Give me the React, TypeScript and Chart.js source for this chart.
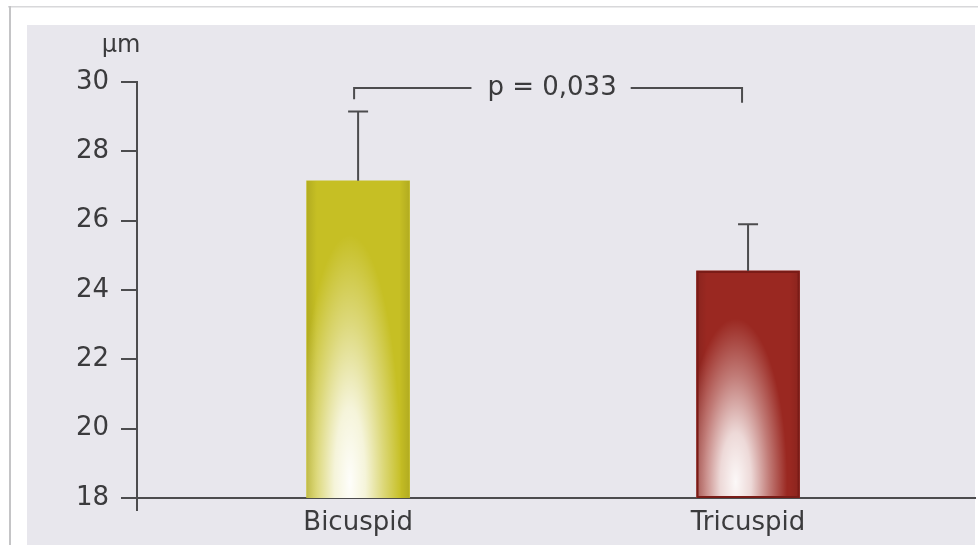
import React, { useEffect, useRef } from "react";
import { Chart, registerables } from "chart.js";

Chart.register(...registerables);

const categories = ["Bicuspid", "Tricuspid"];
const means = [27.15, 24.55];
const errors = [2.0, 1.35];
const yTicks = [18, 20, 22, 24, 26, 28, 30];
const unitLabel = "µm";
const pLabel = "p = 0,033";
const bracketLevel = 29.83;
const bracketEnds = [29.5, 29.4];

const FONT = "'DejaVu Sans', 'Liberation Sans', Arial, sans-serif";
const INK = "#3b3b3d";
const AXIS = "#4c4c4e";

function glow(ctx: CanvasRenderingContext2D, x0: number, x1: number, top: number, base: number, cxFrac: number, rxFrac: number, reach: number, strength: number) {
  const w = x1 - x0;
  const h = base - top;
  ctx.save();
  ctx.beginPath();
  ctx.rect(x0, top, w, h);
  ctx.clip();
  const eg = ctx.createLinearGradient(x0, 0, x1, 0);
  eg.addColorStop(0, "rgba(0,0,0,0.10)");
  eg.addColorStop(0.1, "rgba(0,0,0,0)");
  eg.addColorStop(0.9, "rgba(0,0,0,0)");
  eg.addColorStop(1, "rgba(0,0,0,0.10)");
  ctx.fillStyle = eg;
  ctx.fillRect(x0, top, w, h);
  const cx = x0 + w * cxFrac;
  const cy = base - 16;
  const rx = w * rxFrac;
  const ry = h * reach;
  ctx.translate(cx, cy);
  ctx.scale(1, ry / rx);
  const g = ctx.createRadialGradient(0, 0, 0, 0, 0, rx);
  g.addColorStop(0, `rgba(255,255,255,${strength})`);
  g.addColorStop(0.3, `rgba(255,255,255,${strength * 0.85})`);
  g.addColorStop(0.65, `rgba(255,255,255,${strength * 0.4})`);
  g.addColorStop(1, "rgba(255,255,255,0)");
  ctx.fillStyle = g;
  ctx.fillRect(-w * 2, -rx * 1.2, w * 4, rx * 2.4);
  ctx.restore();
}

const framePlugin = {
  id: "frame",
  beforeDraw(chart: any) {
    const ctx = chart.ctx as CanvasRenderingContext2D;
    ctx.save();
    ctx.fillStyle = "#ffffff";
    ctx.fillRect(0, 0, chart.width, chart.height);
    ctx.fillStyle = "#d8d8da";
    ctx.fillRect(8, 6, chart.width - 8, 1.5);
    ctx.fillStyle = "#c4c4c6";
    ctx.fillRect(9, 6, 2, chart.height - 20);
    ctx.fillStyle = "#e8e7ed";
    ctx.fillRect(27, 25, chart.width - 30, 520);
    ctx.restore();
  },
};

const decorPlugin = {
  id: "decor",
  afterDatasetsDraw(chart: any) {
    const ctx = chart.ctx as CanvasRenderingContext2D;
    const meta = chart.getDatasetMeta(0);
    const y = chart.scales.y;
    const area = chart.chartArea;
    const xs: number[] = [];
    meta.data.forEach((bar: any, i: number) => {
      const p = bar.getProps(["x", "y", "base", "width"], true);
      const x0 = p.x - p.width / 2;
      const x1 = p.x + p.width / 2;
      const base = Math.min(p.base, area.bottom);
      if (i === 0) glow(ctx, x0, x1, p.y, base, 0.42, 0.5, 0.78, 0.98);
      else glow(ctx, x0, x1, p.y, base, 0.38, 0.5, 0.72, 0.97);
      if (i === 1) {
        ctx.save();
        ctx.strokeStyle = "#7a1c17";
        ctx.lineWidth = 2;
        ctx.strokeRect(x0 + 1, p.y + 1, p.width - 2, base - p.y - 2);
        ctx.restore();
      }
      xs.push(p.x);
      const ye = y.getPixelForValue(means[i] + errors[i]);
      ctx.save();
      ctx.strokeStyle = AXIS;
      ctx.lineWidth = 2;
      ctx.beginPath();
      ctx.moveTo(p.x, p.y);
      ctx.lineTo(p.x, ye);
      ctx.moveTo(p.x - 10, ye);
      ctx.lineTo(p.x + 10, ye);
      ctx.stroke();
      ctx.restore();
    });
    const by = y.getPixelForValue(bracketLevel);
    const l = xs[0] - 4;
    const r = xs[1] - 6;
    const mid = (l + r) / 2 + 4;
    ctx.save();
    ctx.font = `26px ${FONT}`;
    const tw = ctx.measureText(pLabel).width;
    ctx.strokeStyle = AXIS;
    ctx.lineWidth = 2;
    ctx.beginPath();
    ctx.moveTo(l, y.getPixelForValue(bracketEnds[0]));
    ctx.lineTo(l, by);
    ctx.lineTo(mid - tw / 2 - 16, by);
    ctx.moveTo(mid + tw / 2 + 14, by);
    ctx.lineTo(r, by);
    ctx.lineTo(r, y.getPixelForValue(bracketEnds[1]));
    ctx.stroke();
    ctx.fillStyle = INK;
    ctx.textAlign = "center";
    ctx.textBaseline = "middle";
    ctx.fillText(pLabel, mid, by);
    ctx.restore();
  },
  afterDraw(chart: any) {
    const ctx = chart.ctx as CanvasRenderingContext2D;
    const a = chart.chartArea;
    ctx.save();
    ctx.strokeStyle = AXIS;
    ctx.lineWidth = 2;
    ctx.beginPath();
    ctx.moveTo(a.left, a.bottom);
    ctx.lineTo(a.left, a.bottom + 13);
    ctx.stroke();
    ctx.fillStyle = INK;
    ctx.font = `24px ${FONT}`;
    ctx.textAlign = "center";
    ctx.textBaseline = "middle";
    ctx.fillText(unitLabel, a.left - 16, 46);
    ctx.restore();
  },
};

export default function App() {
  const ref = useRef<HTMLCanvasElement | null>(null);
  useEffect(() => {
    document.body.style.margin = "0";
    if (!ref.current) return;
    const chart = new Chart(ref.current, {
      type: "bar",
      data: {
        datasets: [
          {
            data: means.map((v, i) => ({ x: i + 1, y: v })),
            backgroundColor: ["#c6bf24", "#9a2821"],
            borderWidth: 0,
            barThickness: 103,
          },
        ],
      },
      options: {
        animation: false,
        responsive: false,
        layout: { padding: { top: 82, right: 3, left: 0, bottom: 0 } },
        plugins: { legend: { display: false }, tooltip: { enabled: false }, title: { display: false } },
        scales: {
          x: {
            type: "linear",
            offset: false,
            min: 0.433,
            max: 2.582,
            afterBuildTicks: (s: any) => {
              s.ticks = categories.map((_, i) => ({ value: i + 1 }));
            },
            afterFit: (s: any) => {
              s.height = 61;
            },
            grid: { display: false, drawTicks: false, offset: false },
            border: { display: true, color: AXIS, width: 2 },
            ticks: {
              callback: (v: any) => categories[Math.round(Number(v)) - 1] ?? "",
              color: INK,
              font: { family: FONT, size: 26 },
              padding: 10,
              maxRotation: 0,
              autoSkip: false,
            },
          },
          y: {
            min: 18,
            max: 30,
            afterBuildTicks: (s: any) => {
              s.ticks = yTicks.map((v) => ({ value: v }));
            },
            afterFit: (s: any) => {
              s.width = 137;
            },
            grid: { drawOnChartArea: false, drawTicks: true, tickLength: 16, color: AXIS, lineWidth: 2 },
            border: { display: true, color: AXIS, width: 2 },
            ticks: { color: INK, font: { family: FONT, size: 26 }, padding: 12 },
          },
        },
      },
      plugins: [framePlugin, decorPlugin],
    } as any);
    return () => chart.destroy();
  }, []);
  return (
    <div style={{ width: 978, height: 559 }}>
      <canvas ref={ref} width={978} height={559} style={{ display: "block" }} />
    </div>
  );
}
